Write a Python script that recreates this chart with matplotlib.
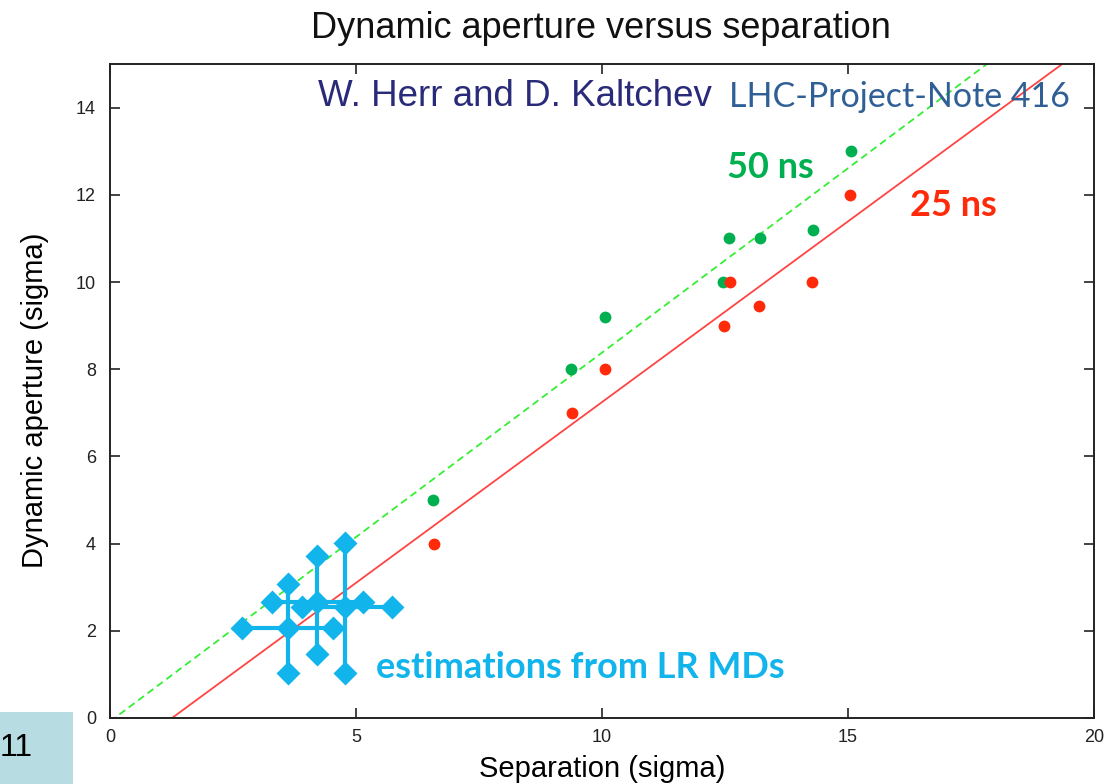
import matplotlib
matplotlib.use("Agg")
import matplotlib.pyplot as plt
import numpy as np
from matplotlib.patches import Rectangle

# ---- data ----
sep_50ns = [6.57, 9.37, 10.06, 12.46, 12.58, 13.21, 14.29, 15.06]
da_50ns = [5.0, 8.0, 9.2, 10.0, 11.0, 11.0, 11.2, 13.0]
sep_25ns = [6.59, 9.39, 10.06, 12.48, 12.60, 13.19, 14.27, 15.04]
da_25ns = [4.0, 7.0, 8.0, 9.0, 10.0, 9.45, 10.0, 12.0]

fit_50ns = (0.846, -0.08)   # slope, intercept
fit_25ns = (0.829, -1.045)

# LR MD estimations: centre, horizontal range, vertical range
md_x = [3.62, 4.20, 4.78]
md_y = [2.06, 2.65, 2.55]
md_xlo = [2.68, 3.29, 3.90]
md_xhi = [4.53, 5.14, 5.73]
md_ylo = [1.03, 1.46, 1.03]
md_yhi = [3.08, 3.72, 4.02]

xticks = [0, 5, 10, 15, 20]
yticks = [0, 2, 4, 6, 8, 10, 12, 14]

GREEN = "#00B050"
RED = "#FF2A0A"
CYAN = "#12B4EC"

fig = plt.figure(figsize=(11.08, 7.84), dpi=100)
ax = fig.add_axes([110/1108, 66/784, 984/1108, 654/784])
ax.set_xlim(0, 20)
ax.set_ylim(0, 15)

# fit lines
xs = np.array([0.0, 20.0])
ax.plot(xs, fit_50ns[0]*xs + fit_50ns[1], color="#33EE33", lw=1.3,
        ls=(0, (4, 2.5)), zorder=2)
ax.plot(xs, fit_25ns[0]*xs + fit_25ns[1], color="#FF4444", lw=1.3, zorder=2)

# data points
ax.plot(sep_50ns, da_50ns, "o", color=GREEN, ms=8.5, mec="none", zorder=3)
ax.plot(sep_25ns, da_25ns, "o", color=RED, ms=8.5, mec="none", zorder=4)

# LR MD estimations
for i in range(len(md_x)):
    ax.plot([md_xlo[i], md_xhi[i]], [md_y[i], md_y[i]], color=CYAN, lw=3, zorder=5)
    ax.plot([md_x[i], md_x[i]], [md_ylo[i], md_yhi[i]], color=CYAN, lw=3, zorder=5)
    px = [md_x[i], md_xlo[i], md_xhi[i], md_x[i], md_x[i]]
    py = [md_y[i], md_y[i], md_y[i], md_ylo[i], md_yhi[i]]
    ax.plot(px, py, "D", color=CYAN, ms=12, mec="none", zorder=6)

ax.set_xticks(xticks)
ax.set_yticks(yticks)
ax.tick_params(direction="in", length=7, width=1.2, top=True, right=True,
               labelsize=13, colors="#222222", pad=10)
ax.tick_params(axis="x", pad=8)
for s in ax.spines.values():
    s.set_linewidth(1.4)
    s.set_color("#222222")

ax.set_xlabel("Separation (sigma)", fontsize=21, family="Liberation Sans")
ax.set_ylabel("Dynamic aperture (sigma)", fontsize=21, family="Liberation Sans")
ax.xaxis.set_label_coords(0.5, -0.056)
ax.yaxis.set_label_coords(-0.062, 0.486)
for lab in ax.get_xticklabels() + ax.get_yticklabels():
    lab.set_family("Liberation Sans")

fig.text(601/1108, 1 - 28/784, "Dynamic aperture versus separation",
         ha="center", va="center", fontsize=26, family="Liberation Sans", color="#111111")

fig.text(318/1108, 1 - 97/784, "W. Herr and D. Kaltchev", ha="left", va="center",
         fontsize=26.5, family="Liberation Sans", color="#2A2A7A")
fig.text(1070/1108, 1 - 97/784, "LHC-Project-Note 416", ha="right", va="center",
         fontsize=24.5, family="Lato", color="#2F5F95")

fig.text(727/1108, 1 - 168/784, "50 ns", ha="left", va="center", fontsize=26,
         family="Lato", weight="bold", color=GREEN)
fig.text(910/1108, 1 - 205/784, "25 ns", ha="left", va="center", fontsize=26,
         family="Lato", weight="bold", color=RED)
fig.text(376/1108, 1 - 668/784, "estimations from LR MDs", ha="left", va="center",
         fontsize=26, family="Lato", weight="bold", color=CYAN)

# slide number box
fig.patches.append(Rectangle((0, 0), 73/1108, 72/784, transform=fig.transFigure,
                             facecolor="#B7DDE3", edgecolor="none", zorder=0))
fig.text(0, 1 - 748/784, "11", ha="left", va="center", fontsize=23,
         family="Liberation Sans", color="black")

fig.savefig("out.png", dpi=100)
